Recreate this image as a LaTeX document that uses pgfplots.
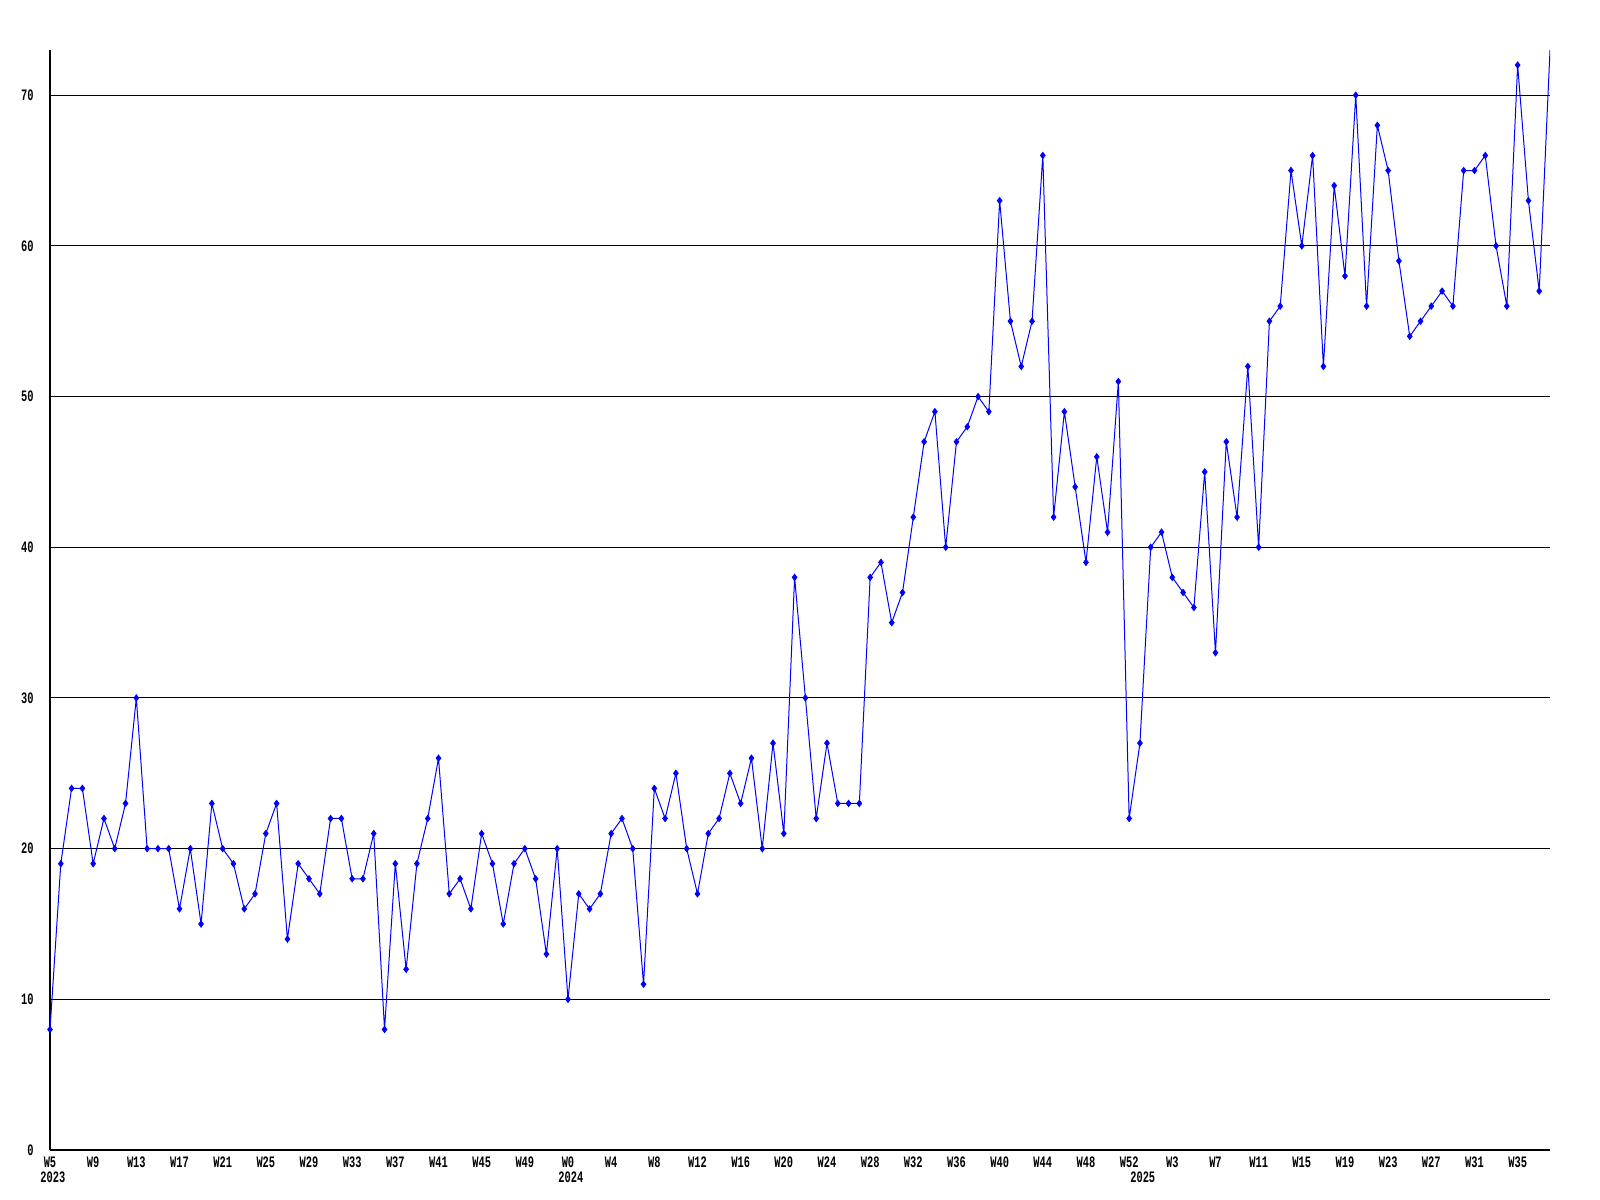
\documentclass[border=0pt]{standalone}
\usepackage{pgfplots}
\usepackage{pgfplotstable}
\pgfplotsset{compat=1.18}
\usepackage{fontspec}
\newfontfamily\tickfont[FakeStretch=0.65]{Liberation Mono}
\pgfplotstableread{
i v
0 8
1 19
2 24
3 24
4 19
5 22
6 20
7 23
8 30
9 20
10 20
11 20
12 16
13 20
14 15
15 23
16 20
17 19
18 16
19 17
20 21
21 23
22 14
23 19
24 18
25 17
26 22
27 22
28 18
29 18
30 21
31 8
32 19
33 12
34 19
35 22
36 26
37 17
38 18
39 16
40 21
41 19
42 15
43 19
44 20
45 18
46 13
47 20
48 10
49 17
50 16
51 17
52 21
53 22
54 20
55 11
56 24
57 22
58 25
59 20
60 17
61 21
62 22
63 25
64 23
65 26
66 20
67 27
68 21
69 38
70 30
71 22
72 27
73 23
74 23
75 23
76 38
77 39
78 35
79 37
80 42
81 47
82 49
83 40
84 47
85 48
86 50
87 49
88 63
89 55
90 52
91 55
92 66
93 42
94 49
95 44
96 39
97 46
98 41
99 51
100 22
101 27
102 40
103 41
104 38
105 37
106 36
107 45
108 33
109 47
110 42
111 52
112 40
113 55
114 56
115 65
116 60
117 66
118 52
119 64
120 58
121 70
122 56
123 68
124 65
125 59
126 54
127 55
128 56
129 57
130 56
131 65
132 65
133 66
134 60
135 56
136 72
137 63
138 57
139 73
}\datatable
\begin{document}
\begin{tikzpicture}
\useasboundingbox (0,0) rectangle (800bp,600bp);
\begin{axis}[
  at={(25bp,25bp)}, anchor=south west,
  width=750bp, height=550bp, scale only axis,
  xmin=0, xmax=139, ymin=0, ymax=73,
  axis x line=bottom, axis y line=left,
  axis line style={-, black, line width=0.6bp},
  clip mode=individual,
  ytick={0,10,...,70},
  yticklabels={0,10,20,30,40,50,60,70},
  ymajorgrids,
  major grid style={black, line width=0.5bp},
  xtick={0,4,...,136},
  xticklabels={W5,W9,W13,W17,W21,W25,W29,W33,W37,W41,W45,W49,W0,W4,W8,W12,W16,W20,W24,W28,W32,W36,W40,W44,W48,W52,W3,W7,W11,W15,W19,W23,W27,W31,W35},
  major tick length=0pt,
  /pgf/number format/assume math mode=true,
  tick label style={font=\tickfont\bfseries\fontsize{8}{8}\selectfont, inner sep=0pt},
  xticklabel style={anchor=north, yshift=-3.2bp},
  yticklabel style={anchor=east, xshift=-8bp},
]
\addplot[color={rgb,255:red,0;green,0;blue,255}, line width=0.5bp,
  mark=diamond*, mark size=1.5bp, mark options={solid}, mark indices={1,...,139}]
  table[x=i, y=v] {\datatable};
\node[anchor=north west, inner sep=0pt, xshift=-5bp, yshift=-10.7bp, font=\tickfont\bfseries\fontsize{8}{8}\selectfont] at (axis cs:0,0) {2023};
\node[anchor=north west, inner sep=0pt, xshift=-5bp, yshift=-10.7bp, font=\tickfont\bfseries\fontsize{8}{8}\selectfont] at (axis cs:48,0) {2024};
\node[anchor=north west, inner sep=0pt, xshift=-5bp, yshift=-10.7bp, font=\tickfont\bfseries\fontsize{8}{8}\selectfont] at (axis cs:101,0) {2025};
\end{axis}
\end{tikzpicture}
\end{document}
